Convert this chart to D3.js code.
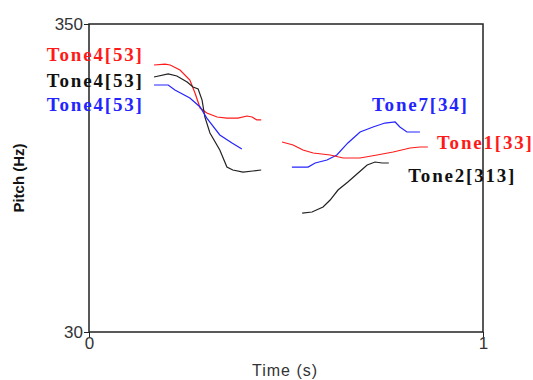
<!DOCTYPE html>
<html>
<head>
<meta charset="utf-8">
<script src="https://cdn.jsdelivr.net/npm/d3@7"></script>
<style>
  body { margin: 0; background: #fff; }
  svg text { font-family: "Liberation Sans", Arial, sans-serif; }
  .lab { font-family: "Liberation Serif", "Times New Roman", serif !important; font-weight: bold; font-size: 19px; letter-spacing: 1.8px; }
</style>
</head>
<body>
<div id="chart"></div>
<script>
// pitch contours: time (s) / pitch (Hz)
const red4T = [0.165, 0.193, 0.206, 0.231, 0.256, 0.269, 0.282, 0.299, 0.325, 0.35, 0.378, 0.401, 0.414, 0.426, 0.437];
const red4F = [307.4, 308.4, 307.4, 302.2, 291.8, 278.3, 262.7, 257.5, 253.4, 252.3, 252.3, 254.4, 253.4, 250.3, 250.3];
const black4T = [0.165, 0.201, 0.223, 0.249, 0.264, 0.277, 0.287, 0.294, 0.307, 0.332, 0.35, 0.365, 0.391, 0.416, 0.437];
const black4F = [294.9, 298.1, 296.0, 289.7, 284.5, 282.5, 271.0, 253.4, 236.8, 219.1, 201.4, 198.3, 196.2, 197.3, 198.3];
const blue4T = [0.165, 0.201, 0.218, 0.256, 0.282, 0.299, 0.332, 0.363, 0.388];
const blue4F = [286.6, 286.6, 281.4, 273.1, 263.8, 252.3, 234.7, 226.4, 220.1];
const blue7T = [0.515, 0.556, 0.574, 0.604, 0.629, 0.657, 0.688, 0.721, 0.751, 0.777, 0.789, 0.807, 0.84];
const blue7F = [201.4, 201.4, 205.6, 208.7, 213.9, 226.4, 237.8, 243.0, 247.1, 248.2, 243.0, 237.8, 237.8];
const red1T = [0.49, 0.518, 0.543, 0.569, 0.612, 0.645, 0.688, 0.731, 0.772, 0.815, 0.84, 0.86];
const red1F = [227.4, 224.3, 219.1, 216.0, 213.9, 210.8, 210.8, 213.9, 217.0, 221.2, 222.2, 222.2];
const black2T = [0.541, 0.566, 0.594, 0.612, 0.632, 0.657, 0.683, 0.706, 0.726, 0.744, 0.761];
const black2F = [153.6, 154.7, 159.9, 167.1, 177.5, 185.8, 195.2, 203.5, 206.6, 205.6, 205.6];

const labelText = ["Tone4[53]", "Tone4[53]", "Tone4[53]", "Tone7[34]", "Tone1[33]", "Tone2[313]"];
const xTicks = [0, 1];
const yTicks = [30, 350];

const width = 533, height = 380;
const margin = { top: 24, right: 50, bottom: 48, left: 89 };

const x = d3.scaleLinear().domain([0, 1]).range([margin.left, width - margin.right]);
const y = d3.scaleLinear().domain([30, 350]).range([height - margin.bottom, margin.top]);

const svg = d3.select("#chart").append("svg").attr("width", width).attr("height", height);

// frame
svg.append("rect")
  .attr("x", x(0)).attr("y", y(350))
  .attr("width", x(1) - x(0)).attr("height", y(30) - y(350))
  .attr("fill", "none").attr("stroke", "#222").attr("stroke-width", 1.5);

const yAxis = svg.append("g")
  .attr("transform", `translate(${x(0)},0)`)
  .call(d3.axisLeft(y).tickValues(yTicks).tickSize(5).tickPadding(1));
const xAxis = svg.append("g")
  .attr("transform", `translate(0,${y(30)})`)
  .call(d3.axisBottom(x).tickValues(xTicks).tickSize(5).tickPadding(0).tickFormat(d3.format("d")));
[yAxis, xAxis].forEach(a => {
  a.select(".domain").remove();
  a.selectAll("line").attr("stroke", "#222");
  a.selectAll("text").attr("fill", "#333").style("font-size", "17px");
});

svg.append("text")
  .attr("x", (x(0) + x(1)) / 2 - 1).attr("y", 376)
  .attr("text-anchor", "middle").attr("fill", "#333")
  .style("font-size", "16px").style("letter-spacing", "1px")
  .text("Time (s)");

svg.append("text")
  .attr("transform", `translate(24,${(y(30) + y(350)) / 2}) rotate(-90)`)
  .attr("text-anchor", "middle").attr("fill", "#111")
  .style("font-size", "15px").style("font-weight", "bold")
  .text("Pitch (Hz)");

const line = d3.line().x(d => x(d[0])).y(d => y(d[1]));
const contours = [
  [red4T, red4F, "#ff1a1a"],
  [black4T, black4F, "#222"],
  [blue4T, blue4F, "#2424ff"],
  [blue7T, blue7F, "#2424ff"],
  [red1T, red1F, "#ff1a1a"],
  [black2T, black2F, "#222"],
];
contours.forEach(([t, f, c]) => {
  svg.append("path")
    .datum(t.map((v, i) => [v, f[i]]))
    .attr("d", line)
    .attr("fill", "none").attr("stroke", c).attr("stroke-width", 1.2);
});

// label anchors (time, pitch of baseline)
const labelPos = [[-0.107, 311.6], [-0.107, 284.5], [-0.107, 259.6], [0.718, 259.6], [0.883, 220.1], [0.81, 185.8]];
const labelColor = ["#ff1a1a", "#111", "#2424ff", "#2424ff", "#ff1a1a", "#111"];
labelText.forEach((s, i) => {
  svg.append("text").attr("class", "lab")
    .attr("x", x(labelPos[i][0])).attr("y", y(labelPos[i][1]))
    .attr("fill", labelColor[i])
    .text(s);
});
</script>
</body>
</html>
